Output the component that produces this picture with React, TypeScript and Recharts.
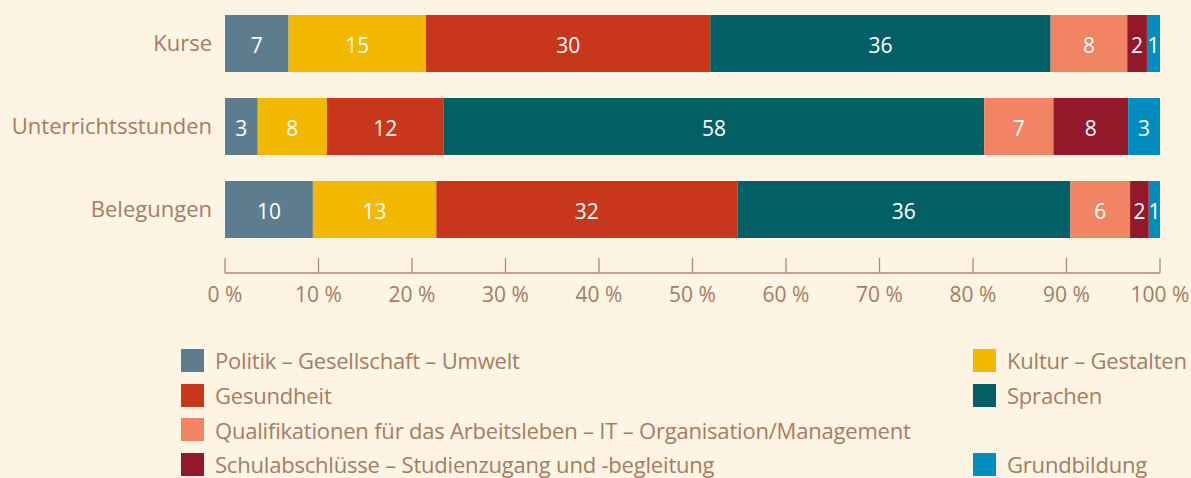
import React from "react"
import { BarChart, Bar, XAxis, YAxis, Legend, LabelList } from "recharts"

const categories = ["Kurse", "Unterrichtsstunden", "Belegungen"]

// shares in % (bar widths)
const politik = [6.8, 3.5, 9.4]
const kultur = [14.7, 7.4, 13.2]
const gesundheit = [30.4, 12.5, 32.2]
const sprachen = [36.4, 57.8, 35.6]
const qualifikation = [8.2, 7.4, 6.4]
const schulabschluss = [2.1, 8.0, 2.0]
const grundbildung = [1.4, 3.4, 1.2]

// printed numbers inside the bars
const politikLabels = [7, 3, 10]
const kulturLabels = [15, 8, 13]
const gesundheitLabels = [30, 12, 32]
const sprachenLabels = [36, 58, 36]
const qualifikationLabels = [8, 7, 6]
const schulabschlussLabels = [2, 8, 2]
const grundbildungLabels = [1, 3, 1]

const xTicks = [0, 10, 20, 30, 40, 50, 60, 70, 80, 90, 100]

const series = [
  { key: "politik", name: "Politik – Gesellschaft – Umwelt", color: "#5d7d8e", values: politik, labels: politikLabels },
  { key: "kultur", name: "Kultur – Gestalten", color: "#f2b800", values: kultur, labels: kulturLabels },
  { key: "gesundheit", name: "Gesundheit", color: "#c8361c", values: gesundheit, labels: gesundheitLabels },
  { key: "sprachen", name: "Sprachen", color: "#025f65", values: sprachen, labels: sprachenLabels },
  { key: "qualifikation", name: "Qualifikationen für das Arbeitsleben – IT – Organisation/Management", color: "#f08463", values: qualifikation, labels: qualifikationLabels },
  { key: "schulabschluss", name: "Schulabschlüsse – Studienzugang und -begleitung", color: "#93182a", values: schulabschluss, labels: schulabschlussLabels },
  { key: "grundbildung", name: "Grundbildung", color: "#008cbf", values: grundbildung, labels: grundbildungLabels },
]

const data = categories.map((name, i) => {
  const row: Record<string, any> = { name }
  series.forEach((s) => {
    row[s.key] = s.values[i]
  })
  return row
})

const TEXT = "#a67c62"
const FONT = "'Open Sans', sans-serif"

const AxisTick = (props: any) => {
  const { x, y, payload } = props
  return (
    <g>
      <line x1={x} x2={x} y1={y - 15} y2={y} stroke="#b08a70" strokeWidth={1.3} />
      <text x={x} y={y + 21} textAnchor="middle" dominantBaseline="central" fill={TEXT} fontSize={21} fontFamily={FONT}>
        {payload.value} %
      </text>
    </g>
  )
}

const makeLabel = (labels: number[]) => (props: any) => {
  const { x, y, width, height, index } = props
  return (
    <text
      x={x + width / 2}
      y={y + height / 2 + 1}
      textAnchor="middle"
      dominantBaseline="central"
      fill="#ffffff"
      fontSize={21}
      fontFamily={FONT}
    >
      {labels[index]}
    </text>
  )
}

const LegendGrid = (props: any) => {
  const payload = props.payload || []
  // keep series order, recharts sorts the payload by name
  const items: any[] = series.map((s) => {
    const p = payload.find((q: any) => q.value === s.name)
    return { value: s.name, color: p ? p.color : s.color }
  })
  // empty slot on the right of the fifth entry
  items.splice(5, 0, null)
  return (
    <div style={{ display: "grid", gridTemplateColumns: "792px 218px", gridAutoRows: "34.7px", fontFamily: FONT }}>
      {items.map((it: any, i: number) =>
        it ? (
          <div key={i} style={{ display: "flex", alignItems: "center", color: TEXT, fontSize: 22, whiteSpace: "nowrap", letterSpacing: -0.2 }}>
            <span style={{ width: 23, height: 23, background: it.color, display: "inline-block", marginRight: 11, flex: "none" }} />
            {it.value}
          </div>
        ) : (
          <div key={i} />
        )
      )}
    </div>
  )
}

export default function App() {
  return (
    <div style={{ position: "absolute", top: 0, left: 0, width: 1191, height: 478, background: "#fdf4e3", overflow: "hidden" }}>
      <BarChart
        width={1191}
        height={478}
        data={data}
        layout="vertical"
        margin={{ top: 2, right: 31, bottom: 175, left: 0 }}
      >
        <XAxis
          type="number"
          domain={[0, 100]}
          ticks={xTicks}
          height={30}
          tickSize={0}
          tickMargin={0}
          tickLine={false}
          axisLine={{ stroke: "#b08a70", strokeWidth: 1.3 }}
          tick={<AxisTick />}
          interval={0}
        />
        <YAxis
          type="category"
          dataKey="name"
          width={225}
          axisLine={false}
          tickLine={false}
          tickSize={0}
          tickMargin={13}
          padding={{ top: 0, bottom: 22 }}
          tick={{ fill: TEXT, fontSize: 22, fontFamily: FONT }}
        />
        <Legend
          layout="horizontal"
          verticalAlign="middle"
          wrapperStyle={{ top: 343, left: 181, width: 1010 }}
          content={<LegendGrid />}
        />
        {series.map((s) => (
          <Bar key={s.key} dataKey={s.key} name={s.name} stackId="a" fill={s.color} barSize={57} isAnimationActive={false}>
            <LabelList dataKey={s.key} content={makeLabel(s.labels)} />
          </Bar>
        ))}
      </BarChart>
    </div>
  )
}
